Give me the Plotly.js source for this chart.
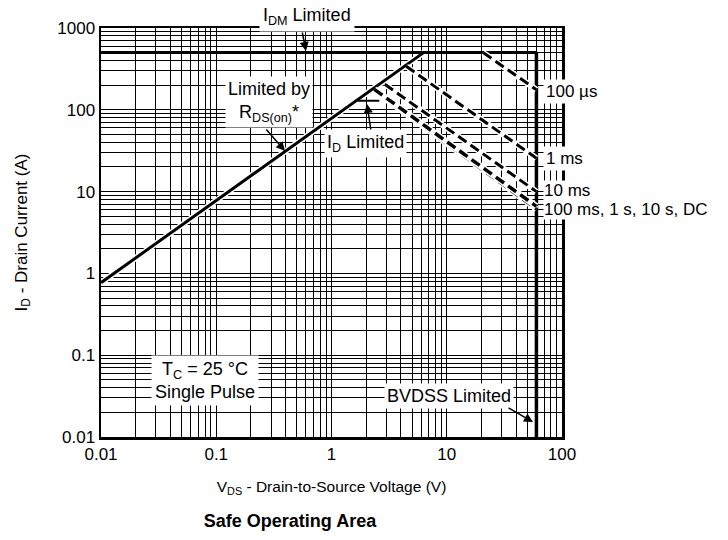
<!DOCTYPE html>
<html>
<head>
<meta charset="utf-8">
<script src="https://cdn.plot.ly/plotly-3.0.1.min.js"></script>
<style>html,body{margin:0;padding:0;background:#fff;}#chart{width:728px;height:540px;}</style>
</head>
<body>
<div id="chart"></div>
<script>
// ---- data (V in volts, I in amps) ----
const idmV = [0.01, 60];
const idmI = [500, 500];
const rdsV = [0.01, 6.3];
const rdsI = [0.77, 500];
const idLimV = [1.68, 2.6];
const idLimI = [129, 129];
const bvdssV = [60, 60];
const bvdssI = [0.01, 500];
const us100V = [20.7, 60];
const us100I = [500, 176];
const ms1V = [4.45, 60];
const ms1I = [340, 25.6];
const ms10V = [2.9, 60];
const ms10I = [205, 10];
const dcV = [2.35, 60];
const dcI = [178, 6.6];
const dc2V = [2.5, 60];
const dc2I = [160, 6.1];

const xTickVals = [0.01, 0.1, 1, 10, 100];
const xTickText = ['0.01', '0.1', '1', '10', '100'];
const yTickVals = [0.01, 0.1, 1, 10, 100, 1000];
const yTickText = ['0.01', '0.1', '1', '10', '100', '1000'];

// minor grid positions (2..9 of each decade)
function minorVals(lo, hi) {
  const out = [];
  for (let e = lo; e < hi; e++) for (let d = 2; d <= 9; d++) out.push(d * Math.pow(10, e));
  return out;
}

const FONT = 'Liberation Sans, Arial, Helvetica, sans-serif';
const L = 101, R = 562, T = 28, B = 437;
const px = x => (x - L) / (R - L);
const py = y => (B - y) / (B - T);

function solid(x, y, w) {
  return {x: x, y: y, mode: 'lines', line: {color: '#000', width: w}, hoverinfo: 'skip', showlegend: false};
}
function dashed(x, y, w) {
  return [
    {x: x, y: y, mode: 'lines', line: {color: '#fff', width: w + 3}, hoverinfo: 'skip', showlegend: false},
    {x: x, y: y, mode: 'lines', line: {color: '#000', width: w, dash: '10px,5px'}, hoverinfo: 'skip', showlegend: false}
  ];
}

const traces = [
  {x: rdsV, y: rdsI, mode: 'lines', line: {color: '#fff', width: 6}, hoverinfo: 'skip', showlegend: false},
  solid(rdsV, rdsI, 3),
  solid(idLimV, idLimI, 2),
  solid(idmV, idmI, 3),
  solid(bvdssV, bvdssI, 3.5),
  ...dashed(us100V, us100I, 3),
  ...dashed(ms1V, ms1I, 3),
  ...dashed(ms10V, ms10I, 3),
  ...dashed(dc2V, dc2I, 3),
  ...dashed(dcV, dcI, 3.5)
];

function label(text, x, y, opts) {
  return Object.assign({
    text: text, xref: 'paper', yref: 'paper', x: px(x), y: py(y),
    showarrow: false, bgcolor: '#fff', borderpad: 2,
    font: {family: FONT, size: 18, color: '#000'}, xanchor: 'center', yanchor: 'middle'
  }, opts || {});
}
function arrow(x1, y1, x0, y0) {
  return {
    text: '', xref: 'paper', yref: 'paper', x: px(x1), y: py(y1),
    ax: x0 - x1, ay: y0 - y1, showarrow: true,
    arrowhead: 2, arrowsize: 1.2, arrowwidth: 1.5, arrowcolor: '#000'
  };
}

const sideFont = {family: FONT, size: 17, color: '#000'};
const annotations = [
  label('I<sub>DM</sub> Limited', 307, 16, {borderpad: 3}),
  arrow(306, 51, 302, 31),
  label('Limited by<br>R<sub>DS(on)</sub>*', 269, 102),
  arrow(285, 151, 265, 128),
  label('I<sub>D</sub> Limited', 365, 143),
  arrow(367, 104, 371, 131),
  label('100 µs', 543, 91, {xanchor: 'left', font: sideFont}),
  label('1 ms', 543, 158, {xanchor: 'left', font: sideFont}),
  label('10 ms', 543, 190, {xanchor: 'left', borderpad: 0, font: sideFont}),
  label('100 ms, 1 s, 10 s, DC', 543, 209, {xanchor: 'left', borderpad: 0, font: sideFont}),
  label('T<sub>C</sub> = 25 °C<br>Single Pulse', 205, 380, {borderpad: 3}),
  label('BVDSS Limited', 449, 396),
  arrow(533, 422, 507, 407)
];

const axisCommon = {
  type: 'log', showline: true, mirror: true, linecolor: '#000', linewidth: 2.5,
  showgrid: true, gridcolor: '#000', gridwidth: 1, zeroline: false,
  ticks: '', tickmode: 'array',
  tickfont: {family: FONT, size: 17, color: '#000'}
};

const layout = {
  width: 728, height: 540,
  margin: {l: L, r: 728 - R, t: T, b: 540 - B},
  paper_bgcolor: '#fff', plot_bgcolor: '#fff',
  font: {family: FONT, color: '#000'},
  showlegend: false,
  title: {
    text: '<b>Safe Operating Area</b>', font: {family: FONT, size: 18, color: '#000'},
    x: 290 / 728, xanchor: 'center', y: 1 - 521 / 540, yanchor: 'middle', yref: 'container'
  },
  xaxis: Object.assign({}, axisCommon, {
    range: [-2, 2], tickvals: xTickVals, ticktext: xTickText,
    minor: {tickmode: 'array', tickvals: minorVals(-2, 2), showgrid: true, gridcolor: '#000', gridwidth: 1, ticks: ''},
    title: {text: 'V<sub>DS</sub> - Drain-to-Source Voltage (V)', font: {family: FONT, size: 15.5, color: '#000'}, standoff: 18}
  }),
  yaxis: Object.assign({}, axisCommon, {
    range: [-2, 3], tickvals: yTickVals, ticktext: yTickText,
    minor: {tickmode: 'array', tickvals: minorVals(-2, 3), showgrid: true, gridcolor: '#000', gridwidth: 1, ticks: ''},
    title: {text: 'I<sub>D</sub> - Drain Current (A)', font: {family: FONT, size: 17, color: '#000'}, standoff: 26}
  }),
  annotations: annotations
};

Plotly.newPlot('chart', traces, layout, {staticPlot: true, displayModeBar: false});
</script>
</body>
</html>
